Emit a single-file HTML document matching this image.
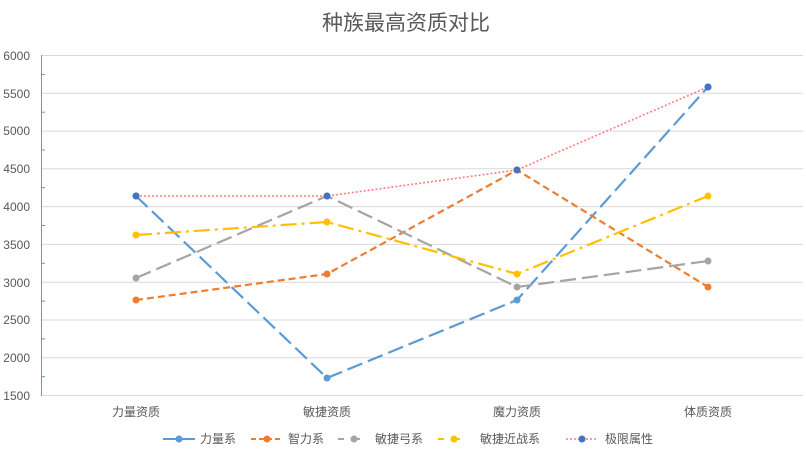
<!DOCTYPE html>
<html><head><meta charset="utf-8"><style>
body{margin:0;background:#fff;}
svg{display:block;font-family:"Liberation Sans","Noto Sans CJK SC",sans-serif;}
</style></head><body>
<svg width="806" height="453" xmlns="http://www.w3.org/2000/svg">
<rect width="806" height="453" fill="#fff"/>
<text x="406" y="30" font-size="21" fill="#595959" text-anchor="middle">种族最高资质对比</text>
<g stroke="#d9d9d9" stroke-width="1">
<line x1="41" x2="803" y1="55.5" y2="55.5"/><line x1="41" x2="803" y1="93.3" y2="93.3"/>
<line x1="41" x2="803" y1="131.1" y2="131.1"/><line x1="41" x2="803" y1="168.8" y2="168.8"/>
<line x1="41" x2="803" y1="206.6" y2="206.6"/><line x1="41" x2="803" y1="244.4" y2="244.4"/>
<line x1="41" x2="803" y1="282.2" y2="282.2"/><line x1="41" x2="803" y1="320" y2="320"/>
<line x1="41" x2="803" y1="357.7" y2="357.7"/><line x1="41" x2="803" y1="395.5" y2="395.5"/>
</g>
<line x1="41.5" x2="41.5" y1="55" y2="396" stroke="#5b9bd5" stroke-width="1"/>
<g stroke="#5b9bd5">
<line x1="41" x2="45" y1="74.4" y2="74.4"/><line x1="41" x2="45" y1="112.2" y2="112.2"/><line x1="41" x2="45" y1="150" y2="150"/><line x1="41" x2="45" y1="187.7" y2="187.7"/><line x1="41" x2="45" y1="225.5" y2="225.5"/><line x1="41" x2="45" y1="263.3" y2="263.3"/><line x1="41" x2="45" y1="301.1" y2="301.1"/><line x1="41" x2="45" y1="338.9" y2="338.9"/><line x1="41" x2="45" y1="376.6" y2="376.6"/>
</g>
<g font-size="12" fill="#595959" text-anchor="end">
<text x="30" y="60">6000</text><text x="30" y="98">5500</text><text x="30" y="135">5000</text><text x="30" y="173">4500</text><text x="30" y="211">4000</text><text x="30" y="249">3500</text><text x="30" y="287">3000</text><text x="30" y="324">2500</text><text x="30" y="362">2000</text><text x="30" y="400">1500</text>
</g>
<g font-size="12" fill="#595959" text-anchor="middle">
<text x="136" y="416">力量资质</text><text x="327" y="416">敏捷资质</text><text x="517" y="416">魔力资质</text><text x="708" y="416">体质资质</text>
</g>
<!-- series -->
<polyline fill="none" stroke="#5b9bd5" stroke-width="2.2" stroke-dasharray="16,6" points="136,196 327,378 517,300 708,87"/>
<polyline fill="none" stroke="#ed7d31" stroke-width="2.2" stroke-dasharray="7,4" points="136,300 327,274 517,170 708,287"/>
<polyline fill="none" stroke="#a5a5a5" stroke-width="2.2" stroke-dasharray="16,6" points="136,278 327,196 517,287 708,261"/>
<polyline fill="none" stroke="#ffc000" stroke-width="2.2" stroke-dasharray="16,5,3,5" points="136,235 327,222 517,274 708,196"/>
<polyline fill="none" stroke="#ff7c80" stroke-width="1.6" stroke-dasharray="2,2" points="136,196 327,196 517,170 708,87"/>
<g fill="#5b9bd5"><circle cx="136" cy="196" r="3.5"/><circle cx="327" cy="378" r="3.5"/><circle cx="517" cy="300" r="3.5"/><circle cx="708" cy="87" r="3.5"/></g>
<g fill="#ed7d31"><circle cx="136" cy="300" r="3.5"/><circle cx="327" cy="274" r="3.5"/><circle cx="517" cy="170" r="3.5"/><circle cx="708" cy="287" r="3.5"/></g>
<g fill="#a5a5a5"><circle cx="136" cy="278" r="3.5"/><circle cx="327" cy="196" r="3.5"/><circle cx="517" cy="287" r="3.5"/><circle cx="708" cy="261" r="3.5"/></g>
<g fill="#ffc000"><circle cx="136" cy="235" r="3.5"/><circle cx="327" cy="222" r="3.5"/><circle cx="517" cy="274" r="3.5"/><circle cx="708" cy="196" r="3.5"/></g>
<g fill="#4472c4"><circle cx="136" cy="196" r="3.5"/><circle cx="327" cy="196" r="3.5"/><circle cx="517" cy="170" r="3.5"/><circle cx="708" cy="87" r="3.5"/></g>
<!-- legend -->
<g font-size="12" fill="#595959">
<line x1="163" x2="195" y1="439" y2="439" stroke="#5b9bd5" stroke-width="2"/><circle cx="179" cy="439" r="3.5" fill="#5b9bd5"/><text x="200" y="443">力量系</text>
<line x1="251" x2="283" y1="439" y2="439" stroke="#ed7d31" stroke-width="2" stroke-dasharray="5,3"/><circle cx="267" cy="439" r="3.5" fill="#ed7d31"/><text x="288" y="443">智力系</text>
<line x1="338" x2="370" y1="439" y2="439" stroke="#a5a5a5" stroke-width="2" stroke-dasharray="6,10"/><circle cx="354" cy="439" r="3.5" fill="#a5a5a5"/><text x="375" y="443">敏捷弓系</text>
<line x1="438" x2="470" y1="439" y2="439" stroke="#ffc000" stroke-width="2" stroke-dasharray="6,10"/><circle cx="454" cy="439" r="3.5" fill="#ffc000"/><text x="480" y="443">敏捷近战系</text>
<line x1="566" x2="598" y1="439" y2="439" stroke="#ff7c80" stroke-width="1.5" stroke-dasharray="2,2"/><circle cx="582" cy="439" r="3.5" fill="#4472c4"/><text x="605" y="443">极限属性</text>
</g>
</svg>
</body></html>
